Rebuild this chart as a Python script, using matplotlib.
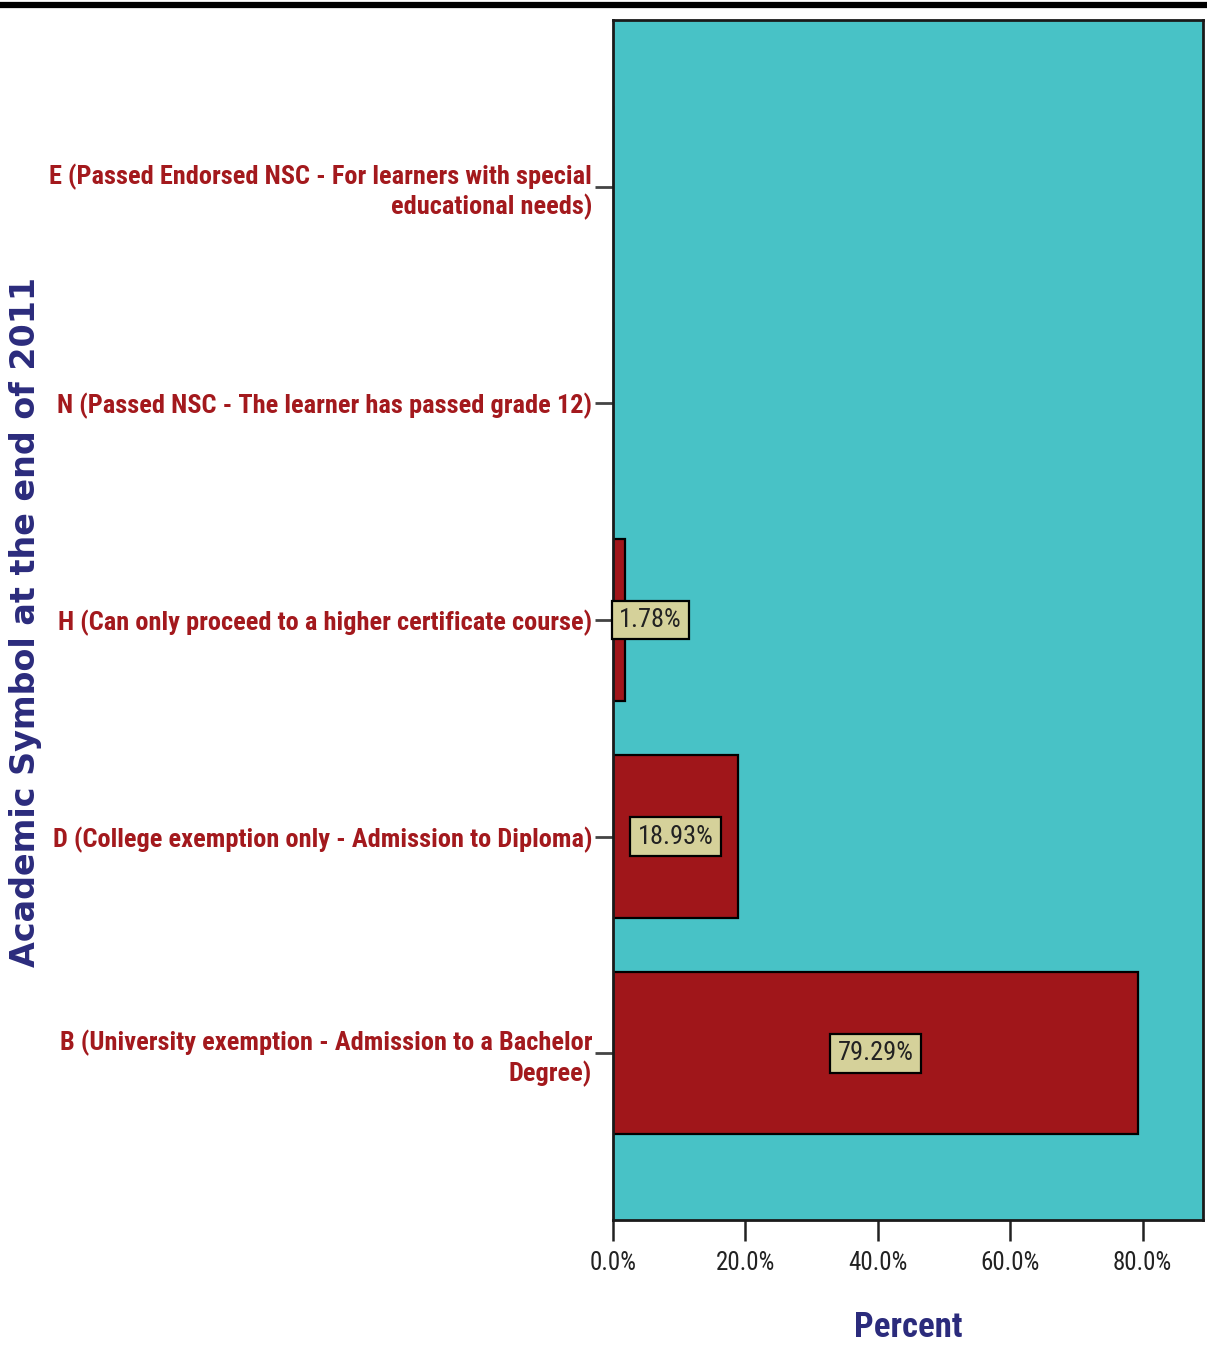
import matplotlib
matplotlib.use("Agg")
import matplotlib.pyplot as plt
from matplotlib.lines import Line2D
from matplotlib.ticker import FuncFormatter

# academic symbols achieved at the end of 2011, bottom to top
categories = [
    "B (University exemption - Admission to a Bachelor\nDegree)",
    "D (College exemption only - Admission to Diploma)",
    "H (Can only proceed to a higher certificate course)",
    "N (Passed NSC - The learner has passed grade 12)",
    "E (Passed Endorsed NSC - For learners with special\neducational needs)",
]
percents = [79.29, 18.93, 1.78, 0.0, 0.0]
x_ticks = [0, 20, 40, 60, 80]

NARROW = ["Roboto Condensed", "PT Sans Narrow", "DejaVu Sans"]
TEAL = "#48c2c6"
BAR_RED = "#a0161a"
LABEL_RED = "#a3191d"
NAVY = "#2b2b7c"
BOX = "#d5d19a"

fig = plt.figure(figsize=(12.07, 13.49), dpi=100, facecolor="white")
ax = fig.add_axes([613 / 1207, 1 - 1220 / 1349, 590 / 1207, 1200 / 1349])
ax.set_facecolor(TEAL)

ypos = list(range(len(categories)))
bars = ax.barh(ypos, percents, height=0.75, color=BAR_RED,
               edgecolor="black", linewidth=1.6, zorder=2)

ax.set_xlim(0, 89.1)
ax.set_ylim(-0.77, len(categories) - 1 + 0.77)

# value boxes on the drawn bars
for y, v in zip(ypos, percents):
    if v <= 0:
        continue
    if v < 5:
        x, ha = 0.9, "left"
    else:
        x, ha = v / 2, "center"
    ax.text(x, y, f"{v:.2f}%", ha=ha, va="center", fontsize=19,
            family=NARROW, color="#222222", zorder=4,
            bbox=dict(boxstyle="square,pad=0.28", facecolor=BOX,
                      edgecolor="black", linewidth=1.6))

ax.set_yticks(ypos)
ax.set_yticklabels(categories, family=NARROW, fontsize=19,
                   fontweight="bold", color=LABEL_RED, ha="right",
                   linespacing=1.2)
ax.set_xticks(x_ticks)
ax.xaxis.set_major_formatter(FuncFormatter(lambda x, pos: f"{x:.1f}%"))
for lab in ax.get_xticklabels():
    lab.set_family(NARROW)
    lab.set_fontsize(18)
    lab.set_color("#222222")

ax.tick_params(axis="x", length=15, width=1.8, color="#222222", pad=7)
ax.tick_params(axis="y", length=13, width=2.0, color="#444444", pad=2)

for s in ax.spines.values():
    s.set_linewidth(2)
    s.set_color("#1a1a1a")

ax.set_xlabel("Percent", family=NARROW, fontsize=25, fontweight="bold",
              color=NAVY, labelpad=26)
fig.text(26 / 1207, 1 - 622 / 1349, "Academic Symbol at the end of 2011",
         rotation=90, ha="center", va="center", fontsize=24,
         fontweight="bold", color=NAVY, family="DejaVu Sans")

# heavy rule across the top of the page
fig.add_artist(Line2D([0, 1], [1 - 5 / 1349, 1 - 5 / 1349],
                      transform=fig.transFigure, color="black", linewidth=4.5))

fig.savefig("out.png", dpi=100, facecolor="white")
